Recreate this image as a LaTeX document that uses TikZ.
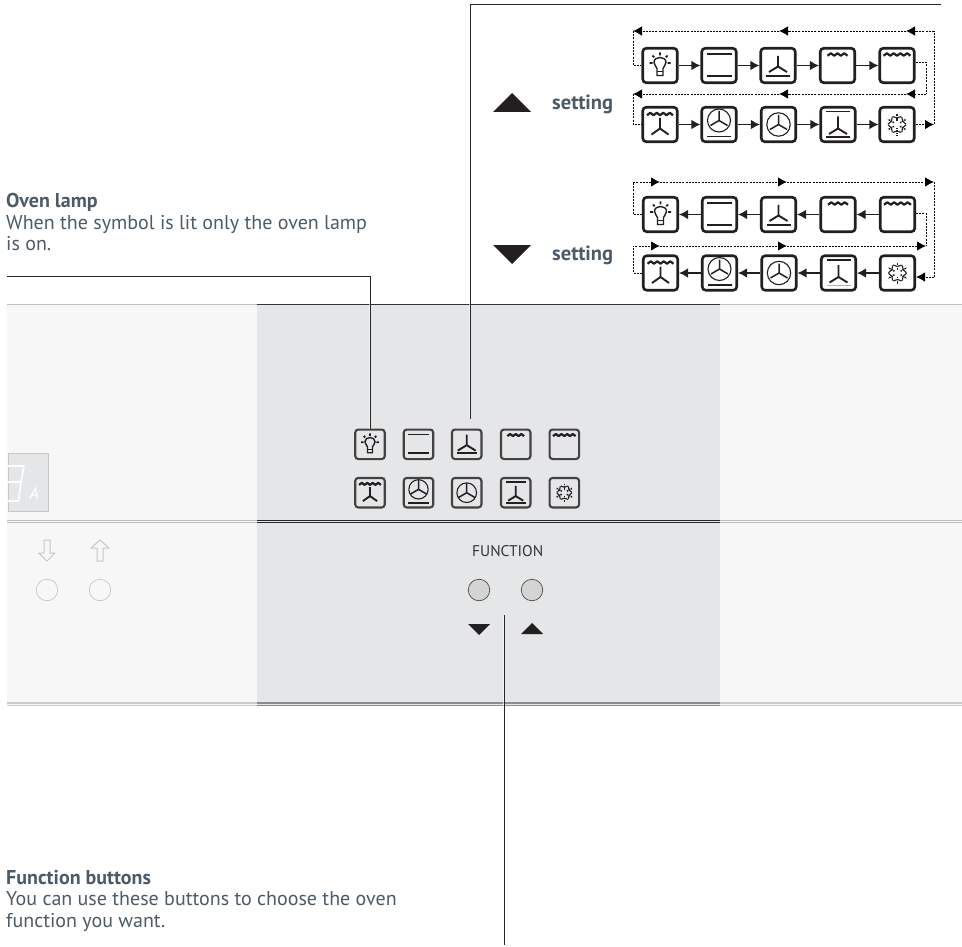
\documentclass[tikz,border=0pt]{standalone}
\usepackage{fontspec}
\setmainfont{PT Sans}
\usetikzlibrary{arrows.meta}
\definecolor{panelmid}{HTML}{E5E6E8}
\definecolor{panelside}{HTML}{F7F7F7}
\definecolor{inktext}{HTML}{4C5B67}
\definecolor{inkbox}{HTML}{231F20}
\tikzset{
    bigbox/.style={draw=inkbox, fill=white, line width=2.6pt, rounded corners=3.5pt, minimum size=34.5pt, inner sep=0pt},
    smallbox/.style={draw=inkbox!85, line width=2.1pt, rounded corners=3pt, minimum size=29.5pt, inner sep=0pt},
    iconline/.style={draw=inkbox, line width=1.9pt},
    lowbar/.style={iconline},
    flowarrow/.style={draw=inkbox, line width=1.2pt, -{Latex[length=9pt,width=9.5pt]}},
    loopline/.style={draw=black, line width=.9pt, dash pattern=on 2pt off 1.2pt},
    looparrow/.style={loopline, -{Latex[length=9pt,width=9.5pt]}},
    leader/.style={draw=black!85, line width=1pt, preaction={draw=white, line width=2.8pt, opacity=.6}},
    desc/.style={text=inktext, font=\fontsize{20}{21.5}\selectfont, align=left, inner sep=0pt, anchor=north west},
    settinglabel/.style={text=inktext, font=\fontsize{20.5}{20}\selectfont\bfseries, inner sep=0pt, anchor=base west},
    mutedbtn/.style={circle, draw=black!22, fill=panelside, line width=.7pt, minimum size=21.5pt, inner sep=0pt},
    fnbtn/.style={circle, draw=black!70, fill=black!17, line width=.7pt, minimum size=21.5pt, inner sep=0pt},
    mutedarrow/.style={draw=black!22, line width=1pt, line join=round},
    fan/.pic={\draw[iconline] (0,-10.5) -- (0,0) (-9,5.5) -- (0,0) -- (9,5.5);},
    smallfan/.pic={\draw[draw=inkbox, line width=1.5pt] (0,-9.5) -- (0,0) (-8.5,5) -- (0,0) -- (8.5,5);},
    lamp/.pic={
        \draw[draw=inkbox, line width=1.4pt] (-3,3) .. controls (-3.5,.5) and (-6,0) .. (-6,-3) .. controls (-6,-6.5) and (-3,-8) .. (0,-8) .. controls (3,-8) and (6,-6.5) .. (6,-3) .. controls (6,0) and (3.5,.5) .. (3,3) -- (3,10) -- (-3,10) -- cycle;
        \draw[draw=inkbox, line width=1.2pt] (-3,6) -- (3,6);
        \draw[draw=inkbox, line width=1.8pt] (-10.5,-2.5) -- (-7.5,-2.5) (10.5,-2.5) -- (7.5,-2.5) (0,-13) -- (0,-10) (-7.5,-10) -- (-5.8,-8.2) (7.5,-10) -- (5.8,-8.2);
    },
    grill/.pic={\draw[iconline] (-12.5,-11.7) -- (12.5,-11.7) (-12.5,10.7) -- (12.5,10.7);},
    fanbottom/.pic={
        \pic at (0,1) {fan};
        \draw[iconline] (-12,10.7) -- (12,10.7);
    },
    waveshort/.pic={\draw[iconline, line width=2.2pt, line join=round] (-10,-9.8) -- (-6.7,-12.2) -- (-3.3,-9.8) -- (0,-12.2) -- (3.3,-9.8) -- (6.7,-12.2) -- (10,-9.8);},
    wavelong/.pic={\draw[iconline, line width=2.2pt, line join=round] (-13.5,-9.8) -- (-10.1,-12.2) -- (-6.7,-9.8) -- (-3.4,-12.2) -- (0,-9.8) -- (3.4,-12.2) -- (6.7,-9.8) -- (10.1,-12.2) -- (13.5,-9.8);},
    wavefan/.pic={
        \draw[iconline, line width=2.2pt, line join=round] (-13,-9.3) -- (-9.7,-11.7) -- (-6.5,-9.3) -- (-3.2,-11.7) -- (0,-9.3) -- (3.2,-11.7) -- (6.5,-9.3) -- (9.7,-11.7) -- (13,-9.3);
        \draw[iconline] (0,-6.5) -- (0,4) (-8.5,10) -- (0,4) -- (8.5,10);
    },
    wheelbottom/.pic={
        \draw[draw=inkbox, line width=1.1pt] (0,-4) circle (11.5);
        \pic at (0,-4) {smallfan};
        \draw[iconline] (-12,12) -- (12,12);
    },
    wheel/.pic={
        \draw[draw=inkbox, line width=1.1pt] (0,0) circle (11.7);
        \pic at (0,0) {smallfan};
    },
    topbottomfan/.pic={
        \draw[iconline] (-12,-13) -- (12,-13);
        \draw[iconline] (0,-8) -- (0,4) (-9,9.5) -- (0,4) -- (9,9.5);
        \draw[lowbar] (-12,12.5) -- (12,12.5);
    },
    snowflake/.pic={
        \foreach \a in {30,90,...,330} {
            \draw[draw=inkbox, line width=1.5pt, dash pattern=on 1.5pt off .8pt] (\a:3.5) -- (\a:10.5);
            \draw[draw=inkbox, line width=1.1pt] (\a:6.5) -- ({\a+28}:9) (\a:6.5) -- ({\a-28}:9);
        }
    },
}

\begin{document}
\begin{tikzpicture}[x=1pt, y=-1pt]
    \useasboundingbox (0,0) rectangle (962,947);

    % Panel
    \fill[panelside] (7,304.5) rectangle (962,705);
    \fill[panelmid] (257,304.5) rectangle (720,705);
    \draw[black!25, line width=1pt] (7,304.5) -- (257,304.5) (720,304.5) -- (962,304.5);
    \draw[black!80, line width=1pt] (257,304.5) -- (720,304.5);
    \draw[black!25, line width=1pt] (7,520.3) -- (257,520.3) (720,520.3) -- (962,520.3) (7,522.8) -- (257,522.8) (720,522.8) -- (962,522.8);
    \draw[black!85, line width=1pt] (257,520.3) -- (720,520.3) (257,522.8) -- (720,522.8);
    \draw[black!20, line width=2pt] (7,703) -- (257,703) (720,703) -- (962,703);
    \draw[black!20, line width=1pt] (7,705.5) -- (257,705.5) (720,705.5) -- (962,705.5);
    \draw[black!45, line width=2pt] (257,703) -- (720,703);
    \draw[black!45, line width=1pt] (257,705.5) -- (720,705.5);

    % Display
    \node[draw=black!22, fill=panelmid, line width=1pt, minimum width=40pt, minimum height=58pt, inner sep=0pt] (display) at (28,482.5) {};
    \begin{scope}
        \clip (7.5,453) rectangle (48,512);
        \draw[white, line width=1.6pt, line join=round] (8,466) -- (24,466) -- (21,482) -- (18.5,501) -- (2,501) (22,482) -- (5,482);
    \end{scope}
    \node[text=white, font=\fontsize{17}{17}\selectfont\itshape, inner sep=0pt, anchor=base] (displayunit) at (34,499) {A};

    % Muted buttons
    \draw[mutedarrow] (44,540) -- (50,540) -- (50,553) -- (55,553) -- (47,561) -- (38.5,553) -- (44,553) -- cycle;
    \draw[mutedarrow] (97,561) -- (103,561) -- (103,548) -- (109,548) -- (100,540) -- (91,548) -- (97,548) -- cycle;
    \node[mutedbtn] (mutedleft) at (47,590) {};
    \node[mutedbtn] (mutedright) at (100,590) {};

    % Function buttons
    \node[text=black!80, font=\fontsize{15.5}{15.5}\selectfont, inner sep=0pt, anchor=base] (fnlabel) at (507.7,556.5) {FUNCTION};
    \node[fnbtn] (fndown) at (479,590) {};
    \node[fnbtn] (fnup) at (532,590) {};
    \fill[inkbox] (468,624) -- (490,624) -- (479,635) -- cycle;
    \fill[inkbox] (521,634) -- (543,634) -- (532,623) -- cycle;

    % Leaders
    \coordinate (lampstart) at (7,276);
    \coordinate (fantop) at (941,4.5);
    \coordinate (fanend) at (470,419);
    \coordinate (fntop) at (504,615);
    \coordinate (fnend) at (504,945);
    \draw[leader] (fantop) -| (fanend);
    \draw[leader] (fntop) -- (fnend);

    % Panel symbols
    \node[smallbox] (pa1) at (370,444.3) {};
    \node[smallbox] (pa2) at (418.5,444.3) {};
    \node[smallbox] (pa3) at (466.7,444.3) {};
    \node[smallbox] (pa4) at (515.7,444.3) {};
    \node[smallbox] (pa5) at (564.3,444.3) {};
    \node[smallbox] (pb1) at (370,492.7) {};
    \node[smallbox] (pb2) at (418.5,492.7) {};
    \node[smallbox] (pb3) at (466.7,492.7) {};
    \node[smallbox] (pb4) at (515.7,492.7) {};
    \node[smallbox] (pb5) at (564.3,492.7) {};
    \draw[leader] (lampstart) -| (pa1.north);
    \pic[scale=.84] at (pa1) {lamp};
    \pic[scale=.84] at (pa2) {grill};
    \pic[scale=.84] at (pa3) {fanbottom};
    \pic[scale=.84] at (pa4) {waveshort};
    \pic[scale=.84] at (pa5) {wavelong};
    \pic[scale=.84] at (pb1) {wavefan};
    \pic[scale=.84] at (pb2) {wheelbottom};
    \pic[scale=.84] at (pb3) {wheel};
    \pic[scale=.84] at (pb4) {topbottomfan};
    \pic[scale=.84] at (pb5) {snowflake};

    % Texts
    \node[desc] (lamptext) at (6,193.5) {\textbf{Oven lamp}\\When the symbol is lit only the oven lamp\\is on.};
    \node[desc] (fntext) at (6,870) {\textbf{Function buttons}\\You can use these buttons to choose the oven\\function you want.};

    % Up setting
    \fill[inkbox] (493,112) -- (531,112) -- (512,93) -- cycle;
    \node[settinglabel] (uplabel) at (552,109.5) {setting};
    \node[bigbox] (ua1) at (660,65.5) {};
    \node[bigbox] (ua2) at (719,65.5) {};
    \node[bigbox] (ua3) at (778,65.5) {};
    \node[bigbox] (ua4) at (837.5,65.5) {};
    \node[bigbox] (ua5) at (897,65.5) {};
    \node[bigbox] (ub1) at (660,124.5) {};
    \node[bigbox] (ub2) at (719,124.5) {};
    \node[bigbox] (ub3) at (778.5,124.5) {};
    \node[bigbox] (ub4) at (838,124.5) {};
    \node[bigbox] (ub5) at (897,124.5) {};
    \pic at (ua1) {lamp};
    \pic at (ua2) {grill};
    \pic at (ua3) {fanbottom};
    \pic at (ua4) {waveshort};
    \pic at (ua5) {wavelong};
    \pic at (ub1) {wavefan};
    \pic at (ub2) {wheelbottom};
    \pic at (ub3) {wheel};
    \pic at (ub4) {topbottomfan};
    \pic at (ub5) {snowflake};
    \draw[flowarrow] (ua1) -- (ua2);
    \draw[flowarrow] (ua2) -- (ua3);
    \draw[flowarrow] (ua3) -- (ua4);
    \draw[flowarrow] (ua4) -- (ua5);
    \draw[flowarrow] (ub1) -- (ub2);
    \draw[flowarrow] (ub2) -- (ub3);
    \draw[flowarrow] (ub3) -- (ub4);
    \draw[flowarrow] (ub4) -- (ub5);

    % Up setting, return lines
    \coordinate (uouter) at (934,31);
    \coordinate (uoutermid) at (779,31);
    \coordinate (uouterright) at (906,31);
    \coordinate (uouterleft) at (633,31);
    \coordinate (uouterend) at (934,124.5);
    \coordinate (uinnertop) at (926,62);
    \coordinate (uinner) at (926,94);
    \coordinate (uinnermid) at (779,94);
    \coordinate (uinnerright) at (906,94);
    \coordinate (uinnerleft) at (633,94);
    \draw[looparrow] (ub5.east) -- (uouterend);
    \draw[loopline] (uouterend) -- (uouter);
    \draw[looparrow] (uouter) -- (uouterright);
    \draw[looparrow] (uouterright) -- (uoutermid);
    \draw[looparrow] (uoutermid) -- (uouterleft);
    \draw[loopline] (uouterleft) |- (ua1.west);
    \draw[loopline] (ua5.east |- uinnertop) -- (uinnertop) -- (uinner);
    \draw[looparrow] (uinner) -- (uinnerright);
    \draw[looparrow] (uinnerright) -- (uinnermid);
    \draw[looparrow] (uinnermid) -- (uinnerleft);
    \draw[loopline] (uinnerleft) |- (ub1.west);

    % Down setting
    \fill[inkbox] (493,245) -- (531,245) -- (512,264) -- cycle;
    \node[settinglabel] (dnlabel) at (552,260) {setting};
    \node[bigbox] (da1) at (660.5,214.5) {};
    \node[bigbox] (da2) at (719.5,214.5) {};
    \node[bigbox] (da3) at (778.5,214.5) {};
    \node[bigbox] (da4) at (838,214.5) {};
    \node[bigbox] (da5) at (897.5,214.5) {};
    \node[bigbox] (db1) at (660.5,273) {};
    \node[bigbox] (db2) at (719.5,273) {};
    \node[bigbox] (db3) at (779,273) {};
    \node[bigbox] (db4) at (838.5,273) {};
    \node[bigbox] (db5) at (897.5,273) {};
    \pic at (da1) {lamp};
    \pic at (da2) {grill};
    \pic at (da3) {fanbottom};
    \pic at (da4) {waveshort};
    \pic at (da5) {wavelong};
    \pic at (db1) {wavefan};
    \pic at (db2) {wheelbottom};
    \pic at (db3) {wheel};
    \pic[lowbar/.style={iconline, draw=black!30}] at (db4) {topbottomfan};
    \pic at (db5) {snowflake};
    \draw[flowarrow] (da2) -- (da1);
    \draw[flowarrow] (da3) -- (da2);
    \draw[flowarrow] (da4) -- (da3);
    \draw[flowarrow] (da5) -- (da4);
    \draw[flowarrow] (db2) -- (db1);
    \draw[flowarrow] (db3) -- (db2);
    \draw[flowarrow] (db4) -- (db3);
    \draw[flowarrow] (db5) -- (db4);

    % Down setting, return lines
    \coordinate (douter) at (934,182);
    \coordinate (doutermid) at (787,182);
    \coordinate (douterleft) at (660,182);
    \coordinate (dlowstart) at (633,182);
    \coordinate (douterend) at (934,277);
    \coordinate (dinnertop) at (926,213);
    \coordinate (dinner) at (926,246);
    \coordinate (dinnermid) at (787,246);
    \coordinate (dinnerleft) at (660,246);
    \coordinate (dinnerstart) at (633,246);
    \draw[looparrow] (da1.west) -| (dlowstart) -- (douterleft);
    \draw[looparrow] (douterleft) -- (doutermid);
    \draw[looparrow] (doutermid) -- (douter);
    \draw[loopline] (douter) -- (douterend);
    \draw[looparrow] (douterend) -- (db5.east |- douterend);
    \draw[loopline] (da5.east |- dinnertop) -- (dinnertop);
    \draw[looparrow] (db1.west) -| (dinnerstart) -- (dinnerleft);
    \draw[looparrow] (dinnerleft) -- (dinnermid);
    \draw[looparrow] (dinnermid) -- (dinner);
    \draw[loopline] (dinnertop) -- (dinner);
\end{tikzpicture}
\end{document}
